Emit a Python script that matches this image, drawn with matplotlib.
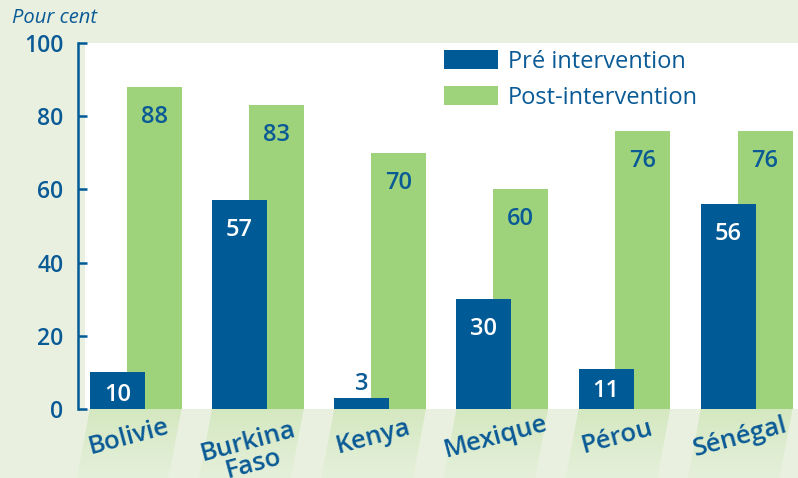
import matplotlib
matplotlib.use('Agg')
import matplotlib.pyplot as plt
import numpy as np
from matplotlib.patches import Polygon
from matplotlib.colors import LinearSegmentedColormap

categories = ['Bolivie', 'Burkina\nFaso', 'Kenya', 'Mexique', 'Pérou', 'Sénégal']
pre = [10, 57, 3, 30, 11, 56]
post = [88, 83, 70, 60, 76, 76]
series_names = ['Pré intervention', 'Post-intervention']
yticks = [0, 20, 40, 60, 80, 100]
ylabel = 'Pour cent'

BLUE = '#005a96'
GREEN = '#9ed27b'
TEXT = '#0a5a96'
BG = '#e9f0df'
plt.rcParams['font.family'] = ['Open Sans', 'DejaVu Sans']

W, H = 798, 478
fig = plt.figure(figsize=(W / 100, H / 100), dpi=100, facecolor=BG)
ax = fig.add_axes([85 / W, (H - 409) / H, (W - 85) / W, 366 / H])
ax.set_facecolor('white')

x = np.arange(len(categories))
off, bw = 0.15, 0.45
ax.bar(x + off, post, bw, color=GREEN, zorder=2, label=series_names[1])
ax.bar(x - off, pre, bw, color=BLUE, zorder=3, label=series_names[0])
ax.set_xlim(-0.415, 5.42)
ax.set_ylim(0, 100)

VFS = 17
VW = 'semibold'
# value labels
for xi, v in zip(x - off, pre):
    if v < 6:
        ax.annotate(str(v), (xi, v), xytext=(0, 10), textcoords='offset points',
                    ha='center', va='center', color=TEXT, fontsize=VFS, fontweight=VW, zorder=5)
    elif v < 15:
        ax.annotate(str(v), (xi, v), xytext=(0, -16), textcoords='offset points',
                    ha='center', va='center', color='white', fontsize=VFS, fontweight=VW, zorder=5)
    else:
        ax.annotate(str(v), (xi, v), xytext=(0, -21.5), textcoords='offset points',
                    ha='center', va='center', color='white', fontsize=VFS, fontweight=VW, zorder=5)
for xi, v in zip(x + off, post):
    ax.annotate(str(v), (xi, v), xytext=(0, -21.5), textcoords='offset points',
                ha='center', va='center', color=TEXT, fontsize=VFS, fontweight=VW, zorder=5)

# axes styling
for s in ['top', 'right', 'bottom']:
    ax.spines[s].set_visible(False)
ax.spines['left'].set_position(('outward', 5))
ax.spines['left'].set_color(BLUE)
ax.spines['left'].set_linewidth(1.8)
ax.set_yticks(yticks)
ax.tick_params(axis='y', direction='in', length=6.5, width=1.8, color=BLUE,
               labelcolor=TEXT, labelsize=16.5, pad=10.5)
for lab in ax.get_yticklabels():
    lab.set_fontweight('semibold')
ax.set_xticks([])

# category labels
for xi, cat in zip(x, categories):
    dy = -31.5 if '\n' in cat else -20.5
    ax.annotate(cat, (xi, 0), xytext=(-5, dy), textcoords='offset points',
                ha='center', va='center', rotation=15, rotation_mode='anchor',
                color=TEXT, fontsize=18.5, fontweight='semibold', linespacing=0.9,
                annotation_clip=False)

# decorative bands under categories
fig.canvas.draw()
bg = fig.add_axes([0, 0, 1, 1], zorder=-1)
bg.axis('off')
grad = np.linspace(0, 1, 100)[:, None]
cmap = LinearSegmentedColormap.from_list('band', ['#d4e8c0', '#e5f0db'])
for xi in x:
    l = ax.transData.transform((xi - off - bw / 2, 0))[0]
    r = ax.transData.transform((xi + off + bw / 2, 0))[0]
    top, bot, sh = 409, H, -13
    poly = Polygon([(l, top), (r, top), (r + sh, bot), (l + sh, bot)], closed=True,
                   facecolor='none', edgecolor='none')
    bg.add_patch(poly)
    im = bg.imshow(grad, extent=(l + sh, r, bot, top), cmap=cmap, aspect='auto', zorder=1)
    im.set_clip_path(poly)
bg.set_xlim(0, W)
bg.set_ylim(H, 0)

fig.text(12 / W, 1 - 18 / H, ylabel, style='italic', fontsize=14.5, color=TEXT,
         ha='left', va='center')

h, lbl = ax.get_legend_handles_labels()
fs = 17
px = fs * 100 / 72
leg = fig.legend(h[::-1], lbl[::-1], loc='upper left', bbox_to_anchor=(444 / W, 1 - 50 / H),
                 frameon=False, fontsize=fs, handlelength=54 / px, handleheight=20 / px,
                 handletextpad=10 / px, labelspacing=0.5, borderpad=0, borderaxespad=0)
for t in leg.get_texts():
    t.set_color(TEXT)

fig.savefig('out.png', dpi=100, facecolor=BG)
